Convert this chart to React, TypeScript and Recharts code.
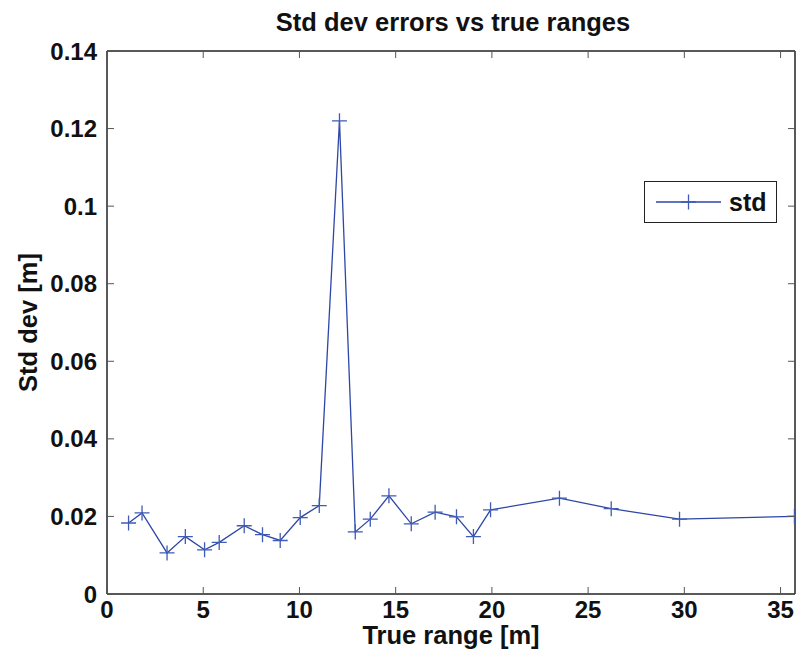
import React from 'react';
import { LineChart, Line, XAxis, YAxis, Legend } from 'recharts';

const trueRange = [1.12, 1.82, 3.12, 4.07, 5.07, 5.83, 7.13, 8.08, 9.0, 10.04, 11.03, 12.08, 12.9, 13.68, 14.65, 15.81, 17.05, 18.16, 19.04, 19.93, 23.51, 26.2, 29.75, 35.72];
const stdDev = [0.0183, 0.0209, 0.0106, 0.0148, 0.0114, 0.0133, 0.0176, 0.0153, 0.0138, 0.0197, 0.0228, 0.122, 0.016, 0.0193, 0.0253, 0.0181, 0.0211, 0.0199, 0.0148, 0.0217, 0.0247, 0.022, 0.0193, 0.02];
const xTicks = [0, 5, 10, 15, 20, 25, 30, 35];
const yTicks = [0, 0.02, 0.04, 0.06, 0.08, 0.1, 0.12, 0.14];
const xDomain = [0, 35.75];
const yDomain = [0, 0.14];
const seriesName = 'std';
const title = 'Std dev errors vs true ranges';
const xLabel = 'True range [m]';
const yLabel = 'Std dev [m]';

const data = trueRange.map((r, i) => ({ range: r, std: stdDev[i] }));

const FONT = '"Liberation Sans", Arial, Helvetica, sans-serif';
const LINE = '#2E46A6';
const MARK = '#3F5BB5';
const AXIS = '#222';
const TICK = '#555';
const TL = 7;
const FS = 24;
const LFS = 25.5;

const fmtY = (v: number) => String(+v.toFixed(2));

const BottomTick = (p: any) => (
  <g>
    <line x1={p.x} y1={p.y} x2={p.x} y2={p.y - TL} stroke={TICK} strokeWidth={1} />
    <text x={p.x} y={p.y + 24} textAnchor="middle" fontFamily={FONT} fontWeight="bold" fontSize={FS} fill="#111">
      {p.payload.value}
    </text>
  </g>
);
const TopTick = (p: any) => (
  <line x1={p.x} y1={p.y} x2={p.x} y2={p.y + TL} stroke={TICK} strokeWidth={1} />
);
const LeftTick = (p: any) => (
  <g>
    <line x1={p.x} y1={p.y} x2={p.x + TL} y2={p.y} stroke={TICK} strokeWidth={1} />
    <text x={p.x - 10} y={p.y + 8.5} textAnchor="end" fontFamily={FONT} fontWeight="bold" fontSize={FS} fill="#111">
      {fmtY(p.payload.value)}
    </text>
  </g>
);
const RightTick = (p: any) => (
  <line x1={p.x} y1={p.y} x2={p.x - TL} y2={p.y} stroke={TICK} strokeWidth={1} />
);

const PlusDot = (p: any) => {
  if (p.cx == null || p.cy == null) return null;
  return (
    <path
      key={p.index}
      d={`M${p.cx - 7.5},${p.cy}H${p.cx + 7.5}M${p.cx},${p.cy - 7.5}V${p.cy + 7.5}`}
      stroke={MARK}
      strokeWidth={1.3}
      fill="none"
    />
  );
};

const renderLegend = (props: any) => {
  const item = props.payload && props.payload[0];
  const name = item ? item.value : seriesName;
  return (
    <div style={{ width: 133, height: 42, border: `1.5px solid ${AXIS}`, boxSizing: 'border-box', background: '#fff' }}>
      <svg width={130} height={39} style={{ display: 'block' }}>
        <line x1={11} y1={20} x2={76} y2={20} stroke={LINE} strokeWidth={1.3} />
        <path d="M43.5,12.5V27.5M36,20H51" stroke={MARK} strokeWidth={1.3} />
        <text x={84} y={29} fontFamily={FONT} fontWeight="bold" fontSize={25} fill="#111">{name}</text>
      </svg>
    </div>
  );
};

export default function App() {
  return (
    <div style={{ position: 'absolute', left: 0, top: 0, background: '#fff' }}>
      <LineChart width={800} height={664} data={data} margin={{ top: 50, right: 4, bottom: 0, left: 0 }}>
        <XAxis
          dataKey="range"
          type="number"
          domain={xDomain}
          ticks={xTicks}
          allowDataOverflow
          height={70}
          tickSize={0}
          tickMargin={0}
          tickLine={false}
          tick={BottomTick}
          axisLine={{ stroke: AXIS, strokeWidth: 1.5 }}
          interval={0}
          label={{
            content: (lp: any) => {
              const vb = lp.viewBox;
              return (
                <text x={vb.x + vb.width / 2} y={vb.y + 50} textAnchor="middle" fontFamily={FONT} fontWeight="bold" fontSize={LFS} fill="#111">
                  {xLabel}
                </text>
              );
            },
          }}
        />
        <XAxis
          xAxisId="top"
          dataKey="range"
          orientation="top"
          type="number"
          domain={xDomain}
          ticks={xTicks}
          allowDataOverflow
          height={1}
          tickSize={0}
          tickMargin={0}
          tickLine={false}
          tick={TopTick}
          interval={0}
          axisLine={{ stroke: AXIS, strokeWidth: 1.5 }}
        />
        <YAxis
          type="number"
          domain={yDomain}
          ticks={yTicks}
          allowDataOverflow
          width={107}
          tickSize={0}
          tickMargin={0}
          tickLine={false}
          tick={LeftTick}
          interval={0}
          axisLine={{ stroke: AXIS, strokeWidth: 1.5 }}
          label={{
            content: (lp: any) => {
              const vb = lp.viewBox;
              const cx = 30;
              const cy = vb.y + vb.height / 2;
              return (
                <g>
                  <text x={cx} y={cy} transform={`rotate(-90 ${cx} ${cy})`} textAnchor="middle" dominantBaseline="middle" fontFamily={FONT} fontWeight="bold" fontSize={LFS} fill="#111">
                    {yLabel}
                  </text>
                  <text x={453} y={31} textAnchor="middle" fontFamily={FONT} fontWeight="bold" fontSize={LFS} fill="#111">
                    {title}
                  </text>
                </g>
              );
            },
          }}
        />
        <YAxis
          yAxisId="right"
          orientation="right"
          type="number"
          domain={yDomain}
          ticks={yTicks}
          allowDataOverflow
          width={1}
          tickSize={0}
          tickMargin={0}
          tickLine={false}
          tick={RightTick}
          interval={0}
          axisLine={{ stroke: AXIS, strokeWidth: 1.5 }}
        />
        <Legend
          layout="horizontal"
          verticalAlign="middle"
          align="center"
          content={renderLegend}
          wrapperStyle={{ position: 'absolute', left: 644, top: 181, width: 133, height: 42 }}
        />
        <Line
          type="linear"
          dataKey="std"
          name={seriesName}
          stroke={LINE}
          strokeWidth={1.3}
          dot={PlusDot}
          activeDot={false}
          isAnimationActive={false}
        />
      </LineChart>
    </div>
  );
}
